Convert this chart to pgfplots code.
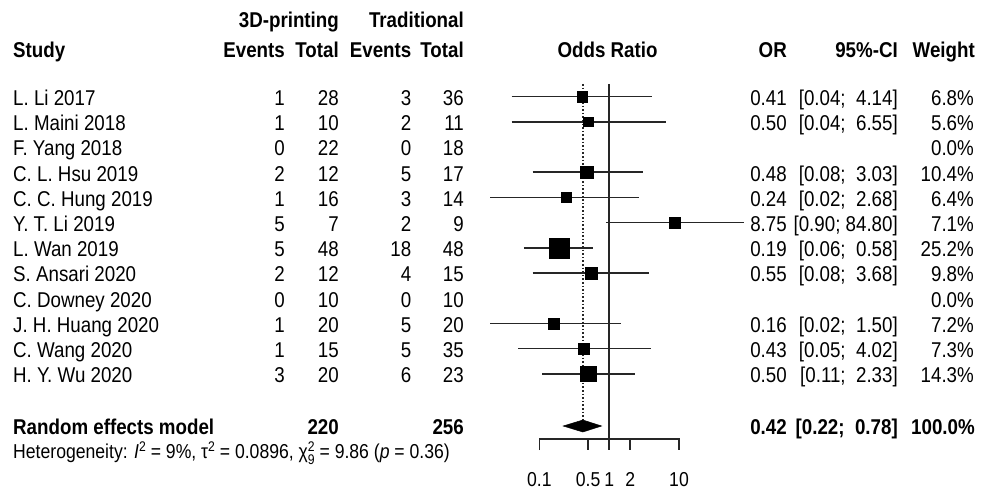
\documentclass[border=0pt]{standalone}
\usepackage{pgfplots}
\usepackage{pgfplotstable}
\pgfplotsset{compat=1.18}
\usepackage{fontspec}
\setmainfont{Liberation Sans}[FakeStretch=0.875]
\newcommand{\mainsz}{\fontsize{21.5}{24}\selectfont}
\newcommand{\smsz}{\fontsize{20.2}{22}\selectfont}
\newcommand{\supsz}{\fontsize{14}{15}\selectfont}

% y = pixel row of each study, or = odds ratio, w = weight, ms = half side of square
\pgfplotstableread{
y     or    lo    hi     w     ms
96.5  0.41  0.04  4.14   6.8   5.22
121.7 0.50  0.04  6.55   5.6   4.73
172.1 0.48  0.08  3.03   10.4  6.45
197.3 0.24  0.02  2.68   6.4   5.06
222.5 8.75  0.90  84.80  7.1   5.33
247.7 0.19  0.06  0.58   25.2  10.04
272.9 0.55  0.08  3.68   9.8   6.26
323.3 0.16  0.02  1.50   7.2   5.37
348.5 0.43  0.05  4.02   7.3   5.40
373.7 0.50  0.11  2.33   14.3  7.56
}\studies

\newcommand{\row}[9]{%
 \node[anchor=base west] at (13,{105.5+25.2*#1}) {#2};
 \node[anchor=base east] at (285,{105.5+25.2*#1}) {#3};
 \node[anchor=base east] at (339,{105.5+25.2*#1}) {#4};
 \node[anchor=base east] at (411.5,{105.5+25.2*#1}) {#5};
 \node[anchor=base east] at (464,{105.5+25.2*#1}) {#6};
 \node[anchor=base east] at (787,{105.5+25.2*#1}) {#7};
 \node[anchor=base east] at (898,{105.5+25.2*#1}) {#8};
 \node[anchor=base east] at (974,{105.5+25.2*#1}) {#9};
}

\begin{document}
\begin{tikzpicture}
\useasboundingbox (0,0) rectangle (987bp,489bp);
\begin{axis}[at={(469.45bp,0bp)}, anchor=south west, width=279.4bp, height=489bp,
  scale only axis, xmode=log, xmin=0.01, xmax=100, ymin=0, ymax=489, y dir=reverse,
  hide axis, clip=false]
% confidence intervals
\addplot[black!85, line width=1.6bp] coordinates {(0.04,96.5)(4.14,96.5)};
\addplot[black!85, line width=1.6bp] coordinates {(0.04,121.7)(6.55,121.7)};
\addplot[black!85, line width=1.6bp] coordinates {(0.08,172.1)(3.03,172.1)};
\addplot[black!85, line width=1.6bp] coordinates {(0.02,197.3)(2.68,197.3)};
\addplot[black!85, line width=1.6bp] coordinates {(0.90,222.5)(84.80,222.5)};
\addplot[black!85, line width=1.6bp] coordinates {(0.06,247.7)(0.58,247.7)};
\addplot[black!85, line width=1.6bp] coordinates {(0.08,272.9)(3.68,272.9)};
\addplot[black!85, line width=1.6bp] coordinates {(0.02,323.3)(1.50,323.3)};
\addplot[black!85, line width=1.6bp] coordinates {(0.05,348.5)(4.02,348.5)};
\addplot[black!85, line width=1.6bp] coordinates {(0.11,373.7)(2.33,373.7)};
% reference line at OR = 1
\addplot[black!85, line width=1.6bp] coordinates {(1,84)(1,450)};
% pooled estimate dotted line
\addplot[black!85, line width=1.6bp, dash pattern=on 1.6bp off 2bp] coordinates {(0.42,84)(0.42,420)};
% squares
\addplot[scatter, only marks, mark=square*, line width=0.3pt,
  scatter/use mapped color={draw=black, fill=black},
  visualization depends on={\thisrow{ms}\as\msz},
  scatter/@pre marker code/.append style={/tikz/mark size=\msz}]
  table[x=or, y=y] {\studies};
% diamond
\addplot[fill=black, draw=black, line width=0.5bp] coordinates {(0.22,426)(0.42,420)(0.78,426)(0.42,432)} -- cycle;
% x axis
\addplot[black!85, line width=1.6bp] coordinates {(0.1,450)(0.1,439)(10,439)(10,450)};
\addplot[black!85, line width=1.6bp] coordinates {(0.5,439)(0.5,450)};
\addplot[black!85, line width=1.6bp] coordinates {(2,439)(2,450)};
\node[anchor=base, inner sep=0pt, font=\smsz] at (axis cs:0.1,486) {0.1};
\node[anchor=base, inner sep=0pt, font=\smsz] at (axis cs:0.5,486) {0.5};
\node[anchor=base, inner sep=0pt, font=\smsz] at (axis cs:1,486) {1};
\node[anchor=base, inner sep=0pt, font=\smsz] at (axis cs:2,486) {2};
\node[anchor=base, inner sep=0pt, font=\smsz] at (axis cs:10,486) {10};
\end{axis}

\begin{scope}[x=1bp, y=-1bp, shift={(0,489bp)}, every node/.style={inner sep=0pt, font=\mainsz}]
% headers
\node[anchor=base east] at (339,28) {\textbf{3D-printing}};
\node[anchor=base east] at (464,28) {\textbf{Traditional}};
\node[anchor=base west] at (13,57.5) {\textbf{Study}};
\node[anchor=base east] at (285,57.5) {\textbf{Events}};
\node[anchor=base east] at (339,57.5) {\textbf{Total}};
\node[anchor=base east] at (411.5,57.5) {\textbf{Events}};
\node[anchor=base east] at (464,57.5) {\textbf{Total}};
\node[anchor=base] at (607.5,57.5) {\textbf{Odds Ratio}};
\node[anchor=base east] at (787,57.5) {\textbf{OR}};
\node[anchor=base east] at (898,57.5) {\textbf{95\%-CI}};
\node[anchor=base east] at (975,57.5) {\textbf{Weight}};
% rows
\row{0}{L. Li 2017}{1}{28}{3}{36}{0.41}{[0.04;~~4.14]}{6.8\%}
\row{1}{L. Maini 2018}{1}{10}{2}{11}{0.50}{[0.04;~~6.55]}{5.6\%}
\row{2}{F. Yang 2018}{0}{22}{0}{18}{}{}{0.0\%}
\row{3}{C. L. Hsu 2019}{2}{12}{5}{17}{0.48}{[0.08;~~3.03]}{10.4\%}
\row{4}{C. C. Hung 2019}{1}{16}{3}{14}{0.24}{[0.02;~~2.68]}{6.4\%}
\row{5}{Y. T. Li 2019}{5}{7}{2}{9}{8.75}{[0.90; 84.80]}{7.1\%}
\row{6}{L. Wan 2019}{5}{48}{18}{48}{0.19}{[0.06;~~0.58]}{25.2\%}
\row{7}{S. Ansari 2020}{2}{12}{4}{15}{0.55}{[0.08;~~3.68]}{9.8\%}
\row{8}{C. Downey 2020}{0}{10}{0}{10}{}{}{0.0\%}
\row{9}{J. H. Huang 2020}{1}{20}{5}{20}{0.16}{[0.02;~~1.50]}{7.2\%}
\row{10}{C. Wang 2020}{1}{15}{5}{35}{0.43}{[0.05;~~4.02]}{7.3\%}
\row{11}{H. Y. Wu 2020}{3}{20}{6}{23}{0.50}{[0.11;~~2.33]}{14.3\%}
% pooled
\node[anchor=base west] at (13,435) {\textbf{Random effects model}};
\node[anchor=base east] at (339,435) {\textbf{220}};
\node[anchor=base east] at (464,435) {\textbf{256}};
\node[anchor=base east] at (787,435) {\textbf{0.42}};
\node[anchor=base east] at (898,435) {\textbf{[0.22;~~0.78]}};
\node[anchor=base east] at (975,435) {\textbf{100.0\%}};
\node[anchor=base west, font=\smsz] at (13,459) {Heterogeneity: \textit{I}\raisebox{0.75ex}{\supsz 2} = 9\%, τ\raisebox{0.75ex}{\supsz 2} = 0.0896, χ\makebox[0pt][l]{\raisebox{0.75ex}{\supsz 2}}\raisebox{-0.55ex}{\supsz 9} = 9.86 (\textit{p} = 0.36)};
\end{scope}
\end{tikzpicture}
\end{document}
